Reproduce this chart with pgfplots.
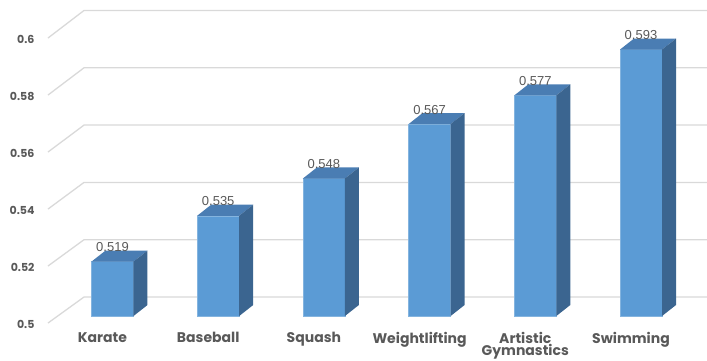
\documentclass[border=0pt]{standalone}
\usepackage{pgfplots}
\usepackage{pgfplotstable}
\pgfplotsset{compat=1.18}
\usepackage{fontspec}
\setmainfont{Liberation Sans}
\newfontfamily\catfont{Poppins}
\definecolor{frontc}{HTML}{5B9BD5}
\definecolor{topc}{HTML}{4A7DB3}
\definecolor{sidec}{HTML}{3B6590}
\definecolor{gridc}{HTML}{D9D9D9}
\definecolor{txtc}{HTML}{595959}

\pgfplotstableread{
i v lab
0 0.519 0.519
1 0.535 0.535
2 0.548 0.548
3 0.567 0.567
4 0.577 0.577
5 0.593 0.593
}\bars

% geometry (axis units)
\def\hw{0.19868}   % half bar width
\def\dx{0.13245}   % depth in x
\def\dy{0.00384}   % depth in y

\begin{document}
\begin{tikzpicture}
\path[use as bounding box] (0,0) rectangle (707pt,360pt);
\begin{axis}[
  at={(0pt,36.8pt)}, anchor=south west,
  scale only axis, width=707pt, height=323.2pt,
  xmin=-1.0643, xmax=5.6244,
  ymin=0.4975, ymax=0.6103,
  axis line style={draw=none}, tick style={draw=none},
  xtick={0,1,2,3,4,5},
  xticklabels={Karate,Baseball,Squash,Weightlifting,{Artistic\\Gymnastics},Swimming},
  xticklabel style={align=center, anchor=north, yshift=-5.5pt, xshift=-10pt,
    font=\catfont\bfseries\fontsize{14}{12.5}\selectfont, text=txtc},
  ytick={0.49756,0.51746,0.53735,0.55725,0.57714,0.59704},
  yticklabels={0.5,0.52,0.54,0.56,0.58,0.6},
  yticklabel style={anchor=east, xshift=38pt, yshift=-1pt, font=\catfont\bfseries\fontsize{11}{11}\selectfont, text=txtc},
  clip=false,
]
% gridlines (front-left slanted part, then back wall)
\pgfplotsinvokeforeach{0.5,0.52,0.54,0.56,0.58,0.6}{
  \pgfmathsetmacro\yf{0.49756+(#1-0.5)*0.99476}
  \pgfmathsetmacro\yb{#1+0.00663}
  \edef\tmp{\noexpand\draw[gridc, line width=1.3pt]
    (axis cs:-0.6102,\yf) -- (axis cs:-0.2696,\yb) -- (axis cs:5.6244,\yb);}
  \tmp
}
% bars: front, top and side faces
\pgfplotsinvokeforeach{0,...,5}{
  \pgfplotstablegetelem{#1}{v}\of\bars
  \let\val\pgfplotsretval
  \pgfmathsetmacro\xl{#1-\hw}
  \pgfmathsetmacro\xr{#1+\hw}
  \pgfmathsetmacro\xlb{#1-\hw+\dx}
  \pgfmathsetmacro\xrb{#1+\hw+\dx}
  \pgfmathsetmacro\vb{\val+\dy}
  \pgfmathsetmacro\zb{0.5+\dy}
  \edef\tmp{\noexpand\addplot[fill=frontc, draw=frontc!75!white, line width=0.4pt, forget plot]
    coordinates {(\xl,0.5) (\xl,\val) (\xr,\val) (\xr,0.5)} -- cycle;}
  \tmp
  \edef\tmp{\noexpand\addplot[fill=topc, draw=none, forget plot]
    coordinates {(\xl,\val) (\xlb,\vb) (\xrb,\vb) (\xr,\val)} -- cycle;}
  \tmp
  \edef\tmp{\noexpand\addplot[fill=sidec, draw=none, forget plot]
    coordinates {(\xr,0.5) (\xrb,\zb) (\xrb,\vb) (\xr,\val)} -- cycle;}
  \tmp
}
% value labels
\addplot[draw=none, mark=none,
  point meta=explicit symbolic,
  nodes near coords,
  nodes near coords style={anchor=base, inner sep=0pt, yshift=10pt,
    font=\fontsize{13}{13}\selectfont, text=txtc}]
  table[x=i, y=v, meta=lab]{\bars};
\end{axis}
\end{tikzpicture}
\end{document}
